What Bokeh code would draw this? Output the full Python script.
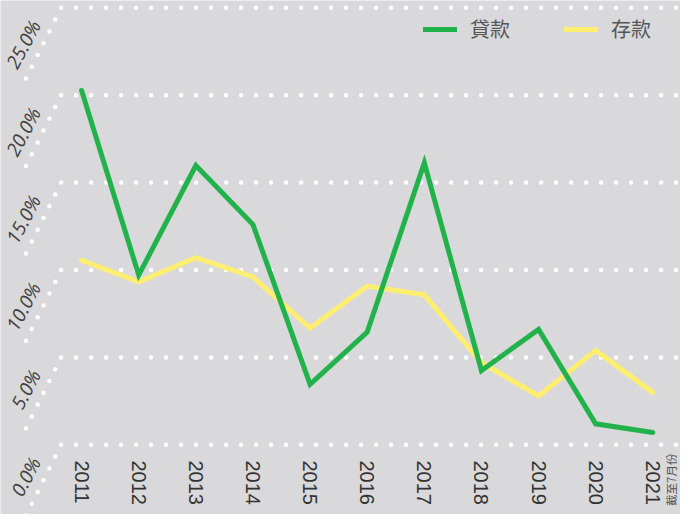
import math
from bokeh.plotting import figure
from bokeh.models import (Range1d, LinearAxis, FixedTicker, PrintfTickFormatter,
                          Legend, LegendItem, ColumnDataSource)
from bokeh.core.properties import value
from bokeh.embed import file_html
from bokeh.resources import INLINE

# ---- data ----
years = [2011, 2012, 2013, 2014, 2015, 2016, 2017, 2018, 2019, 2020, 2021]
loans = [20.27, 9.71, 15.98, 12.6, 3.46, 6.45, 16.13, 4.25, 6.6, 1.2, 0.7]       # 貸款
deposits = [10.56, 9.32, 10.71, 9.6, 6.68, 9.08, 8.58, 4.7, 2.8, 5.4, 3.0]      # 存款
y_ticks = [0, 5, 10, 15, 20, 25]
series_names = ["貸款", "存款"]
note_text = "截至7月份"

# ---- layout constants ----
W, H = 680, 514
X0, X1 = 2009.58, 2021.485
Y0, Y1 = -3.987, 25.418
BG = "#d9d9db"
GREEN = "#22b24c"
YELLOW = "#ffee6f"

p = figure(width=W, height=H, output_backend="svg", toolbar_location=None,
           x_range=Range1d(X0, X1), y_range=Range1d(Y0, Y1),
           x_axis_location=None, y_axis_location=None,
           min_border=0, min_border_left=0, min_border_right=0,
           min_border_top=0, min_border_bottom=0)
p.background_fill_color = BG
p.border_fill_color = BG
p.outline_line_color = None
p.xgrid.visible = False
p.ygrid.visible = False

# dotted grid lines
gx0 = 2010.641
grid_src = ColumnDataSource(dict(
    x0=[gx0] * len(y_ticks), x1=[X1] * len(y_ticks), y=y_ticks))
p.segment(x0="x0", y0="y", x1="x1", y1="y", source=grid_src,
          line_color="white", line_width=4.5, line_dash="0 15", line_cap="round")

# diagonal dotted leaders from each grid line towards its label
STEP_X, STEP_Y, NSTEP = 0.1027, 0.675, 6
lx, ly = [], []
for t in y_ticks:
    for k in range(1, NSTEP + 1):
        lx.append(gx0 - k * STEP_X)
        ly.append(t - k * STEP_Y)
p.scatter(lx, ly, marker="circle", size=4.5, fill_color="white", line_color=None)

# series
r_dep = p.line(years, deposits, line_color=YELLOW, line_width=5,
               line_cap="round", line_join="miter")
r_loan = p.line(years, loans, line_color=GREEN, line_width=5,
                line_cap="round", line_join="miter")

# y axis (labels rotated, drawn at a fixed location inside the frame)
SHIFT = 0.8
p.extra_y_ranges = {"lab": Range1d(Y0 + SHIFT, Y1 + SHIFT)}
yax = LinearAxis(y_range_name="lab", ticker=FixedTicker(ticks=y_ticks),
                 formatter=PrintfTickFormatter(format="%.1f%%"),
                 fixed_location=2010.385,
                 major_label_orientation=math.radians(62),
                 major_label_standoff=5,
                 major_label_text_font="Open Sans",
                 major_label_text_font_style="italic",
                 major_label_text_font_size="19px",
                 major_label_text_color="#404040",
                 axis_line_color=None, major_tick_line_color=None,
                 minor_tick_line_color=None)
p.add_layout(yax, "left")

# x axis
xax = LinearAxis(ticker=FixedTicker(ticks=years),
                 major_label_overrides={y: str(y) for y in years},
                 fixed_location=-0.44,
                 major_label_orientation="vertical",
                 major_label_standoff=2,
                 major_label_text_font="Liberation Sans",
                 major_label_text_font_size="20px",
                 major_label_text_color="#333333",
                 axis_line_color=None, major_tick_line_color=None,
                 minor_tick_line_color=None)
p.add_layout(xax, "below")

# note next to the last year
p.text(x=[years[-1] + 0.31], y=[-0.5], text=[note_text], angle=math.pi / 2,
       text_align="right", text_baseline="middle",
       text_font=value("Noto Sans CJK TC"), text_font_size="11.5px",
       text_color="#555555")

legend = Legend(items=[LegendItem(label=series_names[0], renderers=[r_loan]),
                       LegendItem(label=series_names[1], renderers=[r_dep])],
                orientation="horizontal", location=(423, 471),
                glyph_width=34, label_standoff=13, spacing=54,
                padding=0, margin=0,
                label_text_font="Noto Sans CJK TC",
                label_text_font_size="20px", label_text_color="#555555",
                background_fill_alpha=0, border_line_alpha=0)
p.add_layout(legend)

open("out.html", "w").write(file_html(p, INLINE))
